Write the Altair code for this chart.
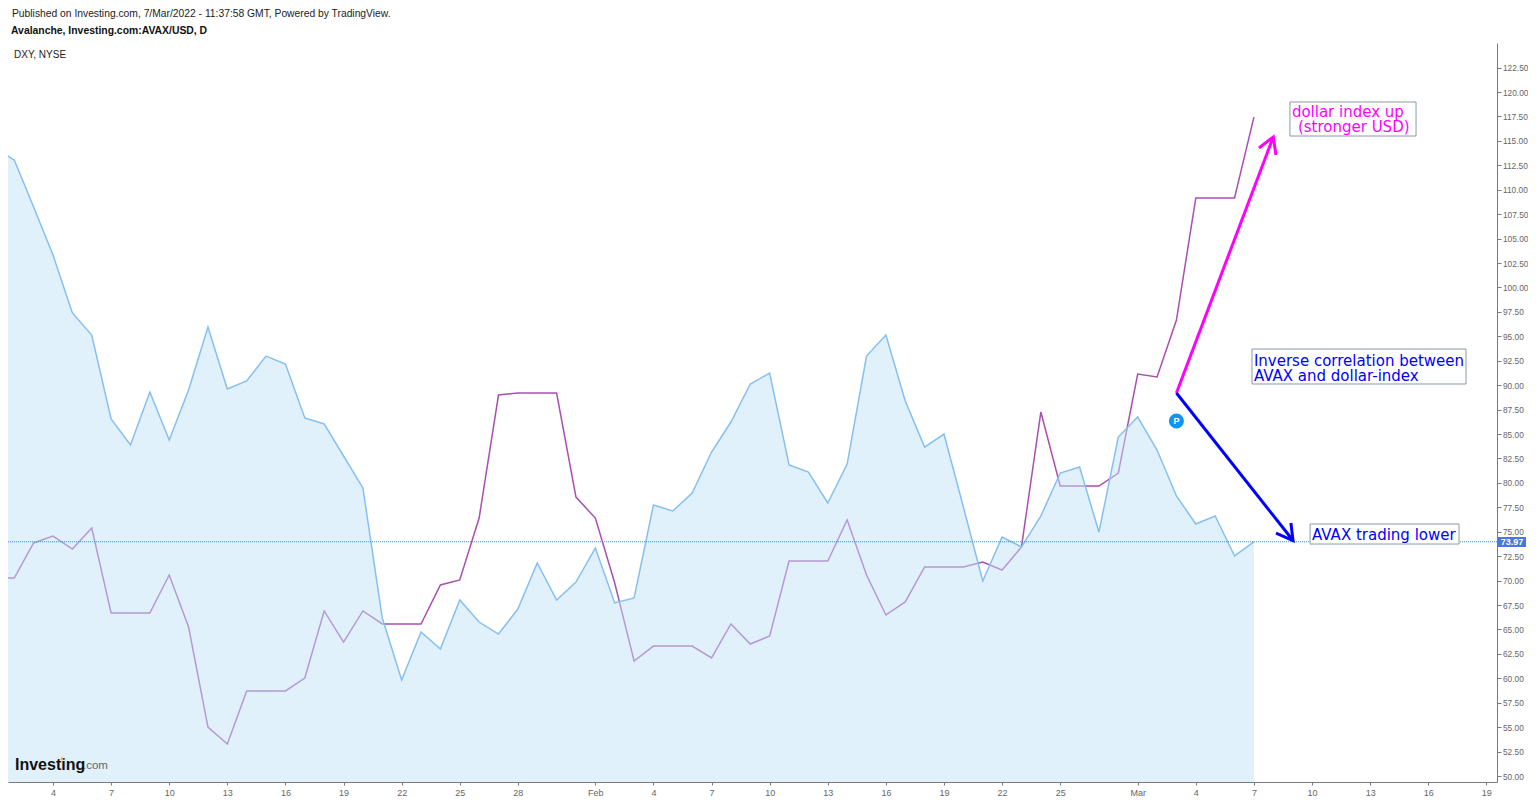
import json
import altair as alt
import pandas as pd

# Calendar day index: January d = d, February d = 31 + d, March d = 59 + d
days = list(range(1, 67))
avax = [114.27, 113.04, 108.23, 103.32, 97.39, 95.13, 86.54, 83.88, 89.30, 84.39, 89.50,
        95.95, 89.61, 90.43, 92.98, 92.17, 86.64, 86.03, 82.75, 79.48, 66.17, 59.82,
        64.74, 63.00, 68.01, 65.76, 64.53, 67.09, 71.80, 68.01, 69.85,
        73.33, 67.71, 68.22, 77.74, 77.12, 78.96, 83.16, 86.23, 90.12, 91.24, 81.83,
        81.11, 77.94, 81.93, 92.98, 95.13, 88.38, 83.67, 85.00, 77.53, 69.96, 74.46,
        73.44, 76.61, 81.01, 81.62, 74.97, 84.69,
        86.74, 83.36, 78.66, 75.79, 76.61, 72.52, 73.97]
dxy = [70.26, 70.26, 73.85, 74.56, 73.23, 75.38, 66.68, 66.68, 66.68, 70.57, 65.25,
       55.01, 53.27, 58.70, 58.70, 58.70, 60.03, 66.89, 63.71, 66.89, 65.56, 65.56,
       65.56, 69.55, 70.06, 76.40, 88.99, 89.20, 89.20, 89.20, 78.55,
       76.40, 69.75, 61.77, 63.30, 63.30, 63.30, 62.08, 65.56, 63.51, 64.33, 72.00,
       72.00, 72.00, 76.20, 70.57, 66.48, 67.81, 71.39, 71.39, 71.39, 71.90, 71.08,
       73.44, 87.25, 79.68, 79.68, 79.68, 81.01,
       91.14, 90.84, 96.67, 109.16, 109.16, 109.16, 117.44]
last_price = 73.97

x_tick_days = [4, 7, 10, 13, 16, 19, 22, 25, 28, 32, 35, 38, 41, 44, 47, 50, 53, 56, 60, 63, 66, 69, 72, 75, 78]
x_tick_text = ["4", "7", "10", "13", "16", "19", "22", "25", "28", "Feb", "4", "7", "10", "13", "16", "19",
               "22", "25", "Mar", "4", "7", "10", "13", "16", "19"]
y_ticks = [50 + 2.5 * i for i in range(30)]

pink_shaft_x, pink_shaft_y = [62.0, 67.0], [89.2, 115.4]
pink_head_x, pink_head_y = [66.26, 67.0, 67.14], [114.27, 115.4, 113.56]
blue_shaft_x, blue_shaft_y = [62.0, 68.02], [89.2, 74.1]
blue_head_x, blue_head_y = [67.14, 68.02, 67.91], [74.87, 74.1, 75.89]

box_x = [67.86, 65.90, 68.90]
box_x2 = [74.37, 76.95, 76.59]
box_y = [118.98, 93.70, 75.79]
box_y2 = [115.50, 90.12, 73.74]

note_text = ["dollar index up", "(stronger USD)", "Inverse correlation between", "AVAX and dollar-index", "AVAX trading lower"]
note_x = [67.96, 68.27, 66.0, 66.0, 69.0]
note_y = [117.93, 116.39, 92.50, 90.97, 74.66]
note_color = ["#ff00ff", "#ff00ff", "#0000ff", "#0000ff", "#0000ff"]

XMIN, XMAX = 1.677, 78.55
YMIN, YMAX = 49.386, 125.02
W, H = 1489, 739

xs = alt.Scale(domain=[XMIN, XMAX], nice=False, zero=False)
ys = alt.Scale(domain=[YMIN, YMAX], nice=False, zero=False)
X = alt.X("d:Q", scale=xs, title=None, axis=alt.Axis(
    values=x_tick_days, grid=False, orient="bottom",
    labelExpr=json.dumps({str(k): v for k, v in zip(x_tick_days, x_tick_text)}) + "[datum.value]",
    labelFont="Liberation Sans", labelFontSize=9, labelColor="#666666", labelOverlap=False, labelFlush=False,
    domainColor="#7a7a7a", tickColor="#7a7a7a", tickSize=3, labelPadding=3))
Y = alt.Y("v:Q", scale=ys, title=None, axis=alt.Axis(
    values=y_ticks, grid=False, orient="right", format=".2f",
    labelFont="Liberation Sans", labelFontSize=8.3, labelColor="#666666", labelOverlap=False, labelFlush=False,
    labelOffset=1, domainColor="#7a7a7a", tickColor="#7a7a7a", tickSize=4, labelPadding=1.5))

df_a = pd.DataFrame({"d": days, "v": avax})
df_d = pd.DataFrame({"d": days, "v": dxy})

dxy_line = alt.Chart(df_d).mark_line(color="#a94fb0", strokeWidth=1.5, clip=True).encode(x=X, y=Y)
area = alt.Chart(df_a).mark_area(color="#c2e4f7", opacity=0.5, clip=True).encode(x=X, y=Y, y2=alt.value(H - 1))
avax_line = alt.Chart(df_a).mark_line(color="#86bff0", strokeWidth=1.5, clip=True).encode(x=X, y=Y)
price = alt.Chart(pd.DataFrame({"v": [last_price]})).mark_rule(color="#4a80f0", strokeWidth=1, strokeDash=[1, 1]).encode(y=Y)


def seg(xv, yv, color):
    return alt.Chart(pd.DataFrame({"d": xv, "v": yv, "o": list(range(len(xv)))})).mark_line(
        color=color, strokeWidth=3, strokeCap="butt", strokeJoin="miter").encode(x=X, y=Y, order="o:Q")


boxes = alt.Chart(pd.DataFrame({"d": box_x, "d2": box_x2, "v": box_y, "v2": box_y2})).mark_rect(
    fill="#ffffff", stroke="#8a98a8", strokeWidth=1).encode(x=X, x2="d2:Q", y=Y, y2="v2:Q")
notes = alt.Chart(pd.DataFrame({"d": note_x, "v": note_y, "t": note_text, "c": note_color})).mark_text(
    font="DejaVu Sans", fontSize=15, align="left", baseline="middle").encode(
    x=X, y=Y, text="t:N", color=alt.Color("c:N", scale=None))

p_df = pd.DataFrame({"d": [62.0], "v": [86.33], "t": ["P"]})
p_dot = alt.Chart(p_df).mark_point(filled=True, size=227, color="#0e96f5", opacity=1).encode(x=X, y=Y)
p_txt = alt.Chart(p_df).mark_text(font="Liberation Sans", fontSize=9, fontWeight="bold", color="white").encode(x=X, y=Y, text="t:N")


def label(txt, px, py, size=10, weight="normal", color="#222222", font="Liberation Sans", align="left"):
    return alt.Chart(pd.DataFrame({"t": [txt]})).mark_text(
        font=font, fontSize=size, fontWeight=weight, color=color, align=align, baseline="middle"
    ).encode(x=alt.value(px), y=alt.value(py), text="t:N")


hdr1 = label("Published on Investing.com, 7/Mar/2022 - 11:37:58 GMT, Powered by TradingView.", 4, -29, 10.3)
hdr2 = label("Avalanche, Investing.com:AVAX/USD, D", 3, -12, 10.4, "bold", "#111111")
hdr3 = label("DXY, NYSE", 6, 12, 10)
logo1 = label("Investing", 7, 722, 16, "bold", "#111111")
logo2 = label(".com", 75, 723, 11.5, "normal", "#666666")
logo_dot = alt.Chart(pd.DataFrame({"a": [1]})).mark_point(filled=True, size=8, color="#f5a623", opacity=1).encode(
    x=alt.value(54), y=alt.value(716))

badge = alt.Chart(pd.DataFrame({"a": [1]})).mark_rect(color="#4a76e0").encode(
    x=alt.value(1490), x2=alt.value(1518), y=alt.value(494), y2=alt.value(504))
badge_t = label("73.97", 1504, 499, 9, "bold", "#ffffff", align="center")

chart = alt.layer(
    dxy_line, area, avax_line, price,
    seg(pink_shaft_x, pink_shaft_y, "#ff00ff"), seg(pink_head_x, pink_head_y, "#ff00ff"),
    seg(blue_shaft_x, blue_shaft_y, "#0000ff"), seg(blue_head_x, blue_head_y, "#0000ff"),
    boxes, notes, p_dot, p_txt, hdr1, hdr2, hdr3, logo1, logo2, logo_dot, badge, badge_t,
).properties(
    width=W, height=H, background="white",
    padding={"left": 0, "top": 35, "right": 31, "bottom": 16},
    autosize=alt.AutoSizeParams(type="none"),
).configure_view(stroke=None)

chart.save("out.html", embed_options={"renderer": "svg", "actions": False})
